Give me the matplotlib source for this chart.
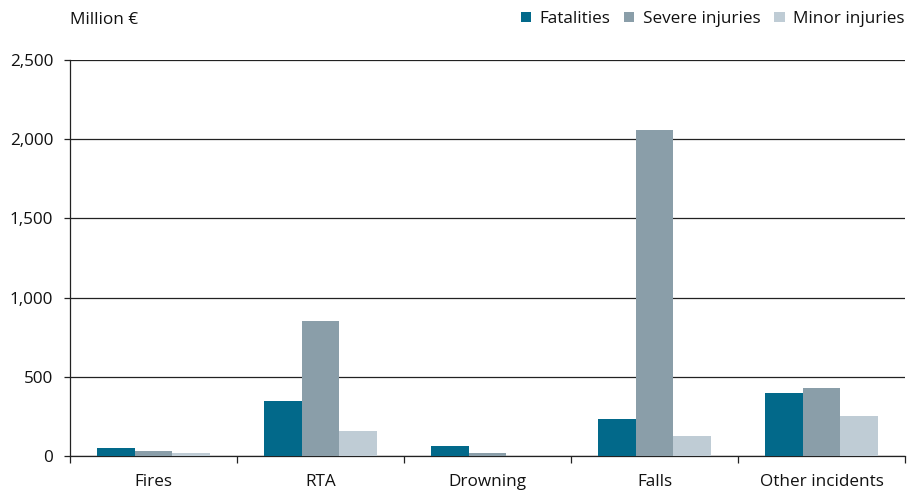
import matplotlib
matplotlib.use("Agg")
import matplotlib.pyplot as plt
import numpy as np

categories = ["Fires", "RTA", "Drowning", "Falls", "Other incidents"]
fatalities = [49, 349, 63, 234, 396]
severe = [32, 852, 17, 2058, 427]
minor = [17, 160, 2, 128, 254]
series_names = ["Fatalities", "Severe injuries", "Minor injuries"]
colors = ["#02698a", "#8a9ea9", "#bfccd5"]
yticks = [0, 500, 1000, 1500, 2000, 2500]
ytick_labels = ["0", "500", "1,000", "1,500", "2,000", "2,500"]

plt.rcParams['font.family'] = ['Open Sans', 'DejaVu Sans']
fs = 12.3

fig = plt.figure(figsize=(9.08, 4.91), dpi=100)
ax = fig.add_axes([70/908, 1-456/491, 835/908, 396/491])

x = np.arange(len(categories))
w = 0.225
for i, (vals, name, c) in enumerate(zip([fatalities, severe, minor], series_names, colors)):
    ax.bar(x + (i-1)*w, vals, width=w, color=c, label=name, zorder=3)

ax.set_xlim(-0.5, len(categories)-0.5)
ax.set_ylim(0, 2500)
ax.set_yticks(yticks)
ax.set_yticklabels(ytick_labels, fontsize=fs, color="#111111")
ax.yaxis.grid(True, color="#222222", linewidth=0.9, zorder=1)
ax.tick_params(axis='y', length=4, width=0.9, color="#222222", pad=8)
ax.set_xticks(x)
ax.set_xticklabels(categories, fontsize=fs, color="#111111")
ax.tick_params(axis='x', length=0, pad=13)
ax.set_xticks(np.arange(len(categories)+1) - 0.5, minor=True)
ax.tick_params(axis='x', which='minor', length=5, width=0.9, color="#222222")
for s in ["top", "right"]:
    ax.spines[s].set_visible(False)
ax.spines["left"].set_color("#222222")
ax.spines["bottom"].set_color("#222222")
ax.spines["left"].set_linewidth(0.9)
ax.spines["bottom"].set_linewidth(0.9)

fig.text(70/908, 1-20/491, "Million €", fontsize=fs, va="center", ha="left", color="#111111")
leg = fig.legend(loc="center right", bbox_to_anchor=(908/908, 1-19/491), ncol=3, frameon=False,
                 fontsize=fs, handlelength=0.6, handleheight=0.6, handletextpad=0.5,
                 columnspacing=0.8, borderaxespad=0, borderpad=0.2)
for t in leg.get_texts():
    t.set_color("#111111")

fig.savefig("out.png", dpi=100)
